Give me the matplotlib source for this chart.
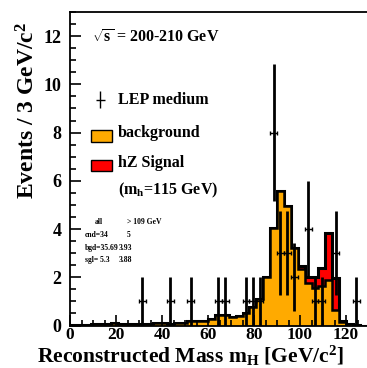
import numpy as np
import matplotlib
matplotlib.use("Agg")
import matplotlib.pyplot as plt
import matplotlib.patches as mpatches
from matplotlib.ticker import MultipleLocator

plt.rcParams['font.family'] = 'Liberation Serif'
plt.rcParams['font.weight'] = 'bold'
plt.rcParams['mathtext.fontset'] = 'custom'
plt.rcParams['mathtext.rm'] = 'Liberation Serif:bold'
plt.rcParams['mathtext.bf'] = 'Liberation Serif:bold'
plt.rcParams['mathtext.it'] = 'Liberation Serif:bold'
plt.rcParams['mathtext.default'] = 'rm'

# 3 GeV bins from 0 to 129
bin_edges = np.arange(0, 130, 3)
background = [0.02, 0.02, 0.03, 0.05, 0.06, 0.06, 0.10, 0.06, 0.05, 0.06,
              0.05, 0.06, 0.10, 0.10, 0.08, 0.10, 0.12, 0.20, 0.20, 0.20,
              0.25, 0.42, 0.42, 0.35, 0.38, 0.50, 0.76, 1.10, 2.00, 4.05,
              5.56, 4.94, 3.23, 2.35, 1.75, 1.55, 1.65, 1.90, 0.65, 0.15,
              0.05, 0.02, 0.00]
signal = [0.0] * 33 + [0.10, 0.25, 0.45, 0.75, 1.95, 1.30, 0.05, 0.0, 0.0, 0.0]

# LEP medium candidates
data_mass = [31.5, 43.5, 52.5, 64.5, 67.5, 76.5, 79.5, 82.5, 88.5, 91.5,
             94.5, 97.5, 103.5, 106.5, 109.5, 115.5, 124.5]
data_count = [1, 1, 1, 1, 1, 1, 1, 1, 8, 3, 3, 2, 4, 1, 1, 3, 1]

table_rows = [("", "all", "> 109 GeV"),
              ("cnd=34", "", "5"),
              ("bgd=35.69", "", "3.93"),
              ("sgl= 5.3", "", "3.88")]

orange = '#ffaa00'
red = '#ff0000'

fig = plt.figure(figsize=(3.67, 3.68), dpi=100)
bottom_px = 325.5
ax = fig.add_axes([70 / 367, 1 - bottom_px / 368, 303.6 / 367, (bottom_px - 12) / 368])

bg = np.array(background)
tot = bg + np.array(signal)
ax.stairs(tot, bin_edges, fill=True, color=red)
ax.stairs(tot, bin_edges, color='k', lw=2.2)
ax.stairs(bg, bin_edges, fill=True, color=orange)
ax.stairs(bg, bin_edges, color='k', lw=1.8)

cnt = np.array(data_count, dtype=float)
ax.errorbar(data_mass, cnt, yerr=np.sqrt(cnt), fmt='none', ecolor='k',
            elinewidth=2.0, capsize=0, zorder=5)
ax.errorbar(data_mass, cnt, xerr=1.5, fmt='none', ecolor='k',
            elinewidth=1.0, capsize=1.5, capthick=1.0, zorder=5)

ax.set_xlim(0, 132)
ax.set_ylim(0, 13)

for s in ['top', 'left', 'right', 'bottom']:
    ax.spines[s].set_linewidth(1.3)

ax.xaxis.set_major_locator(MultipleLocator(20))
ax.xaxis.set_minor_locator(MultipleLocator(5))
ax.yaxis.set_major_locator(MultipleLocator(2))
ax.yaxis.set_minor_locator(MultipleLocator(0.5))
ax.tick_params(which='both', direction='in', top=False, right=False, width=1.2)
ax.tick_params(which='major', length=8, labelsize=13)
ax.tick_params(which='minor', length=4)
ax.tick_params(axis='x', pad=1, labelsize=12.5)
ax.tick_params(axis='y', pad=6)

ax.set_xlabel(r'Reconstructed Mass m$_{\rm H}$ [GeV/c$^2$]', fontsize=15.5,
              fontweight='bold')
ax.xaxis.set_label_coords((190 - 70) / 303.6, -18.5 / (bottom_px - 12))
ax.set_ylabel(r'Events / 3 GeV/c$^2$', fontsize=17, fontweight='bold')
ax.yaxis.set_label_coords(-0.10, (bottom_px - 110) / (bottom_px - 12))

ax.text(9.6, 11.9, r'$\sqrt{\rm s}$ = 200-210 GeV', fontsize=11.5,
        va='center', ha='left')

# legend, hand placed
ax.errorbar([13.2], [9.36], xerr=1.8, yerr=0.35, fmt='none', ecolor='k',
            elinewidth=1.0, capsize=0)
ax.text(20.9, 9.36, 'LEP medium', fontsize=11.5, va='center')
ax.add_patch(mpatches.Rectangle((9.0, 7.62), 9.1, 0.5, facecolor=orange,
                                edgecolor='k', lw=1.0))
ax.text(20.9, 8.0, 'background', fontsize=11.5, va='center')
ax.add_patch(mpatches.Rectangle((9.0, 6.4), 9.1, 0.48, facecolor=red,
                                edgecolor='k', lw=1.0))
ax.text(20.9, 6.73, 'hZ Signal', fontsize=11.5, va='center')
ax.text(20.9, 5.59, r'(m$_{\rm h}$=115 GeV)', fontsize=11.5, va='center')

row_y = [4.29, 3.75, 3.23, 2.71]
for (lab, mid, right), yy in zip(table_rows, row_y):
    if lab:
        ax.text(6.5, yy, lab, fontsize=5.5, va='center')
    if mid:
        ax.text(10.9, yy, mid, fontsize=5.5, va='center')
    ax.text(24.6 if yy > 3.5 else 21.3, yy, right, fontsize=5.5, va='center')

fig.savefig('out.png', dpi=100)
